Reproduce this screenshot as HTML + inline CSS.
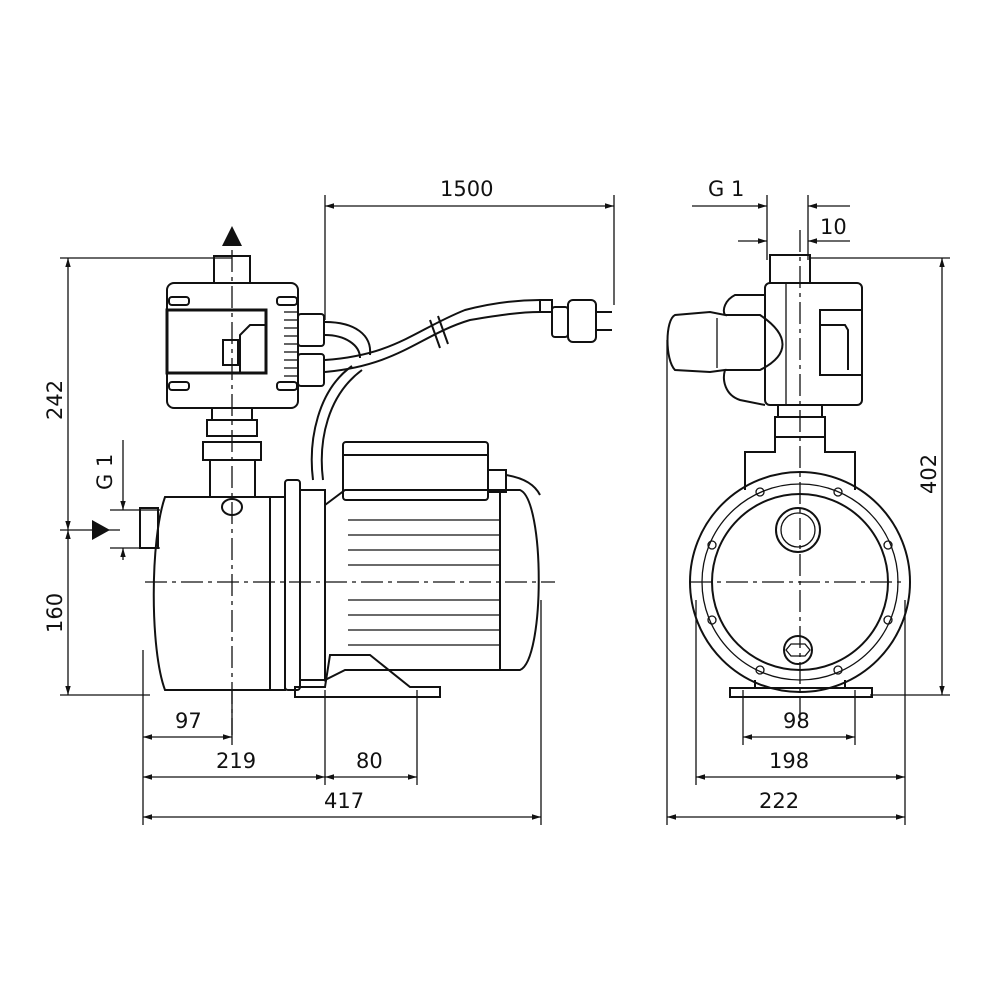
<!DOCTYPE html>
<html><head><meta charset="utf-8"><style>
html,body{margin:0;padding:0;background:#fff}
svg{display:block}
text{font-family:"DejaVu Sans","Liberation Sans",sans-serif;font-size:21px;fill:#111}
</style></head><body>
<svg width="1000" height="1000" viewBox="0 0 1000 1000" xmlns="http://www.w3.org/2000/svg">
<defs>
<marker id="a" viewBox="0 0 10 10" refX="10" refY="5" markerWidth="9" markerHeight="9" orient="auto-start-reverse" markerUnits="userSpaceOnUse"><path d="M0,2 L10,5 L0,8z" fill="#111"/></marker>
</defs>
<g stroke="#111" fill="none" stroke-width="1.3">
<!-- ===== LEFT VIEW dimensions ===== -->
<line x1="325" y1="195" x2="325" y2="320"/>
<line x1="614" y1="195" x2="614" y2="305"/>
<line x1="325" y1="206" x2="614" y2="206" marker-start="url(#a)" marker-end="url(#a)"/>
<line x1="60" y1="258" x2="232" y2="258"/>
<line x1="60" y1="530" x2="120" y2="530"/>
<line x1="60" y1="695" x2="150" y2="695"/>
<line x1="68" y1="258" x2="68" y2="530" marker-start="url(#a)" marker-end="url(#a)"/>
<line x1="68" y1="530" x2="68" y2="695" marker-start="url(#a)" marker-end="url(#a)"/>
<line x1="123" y1="440" x2="123" y2="510" marker-end="url(#a)"/>
<line x1="123" y1="560" x2="123" y2="548" marker-end="url(#a)"/>
<line x1="110" y1="510" x2="160" y2="510"/>
<line x1="110" y1="548" x2="160" y2="548"/>
<line x1="143" y1="650" x2="143" y2="825"/>
<line x1="232" y1="690" x2="232" y2="745"/>
<line x1="325" y1="690" x2="325" y2="785"/>
<line x1="417" y1="690" x2="417" y2="785"/>
<line x1="541" y1="600" x2="541" y2="825"/>
<line x1="143" y1="737" x2="232" y2="737" marker-start="url(#a)" marker-end="url(#a)"/>
<line x1="143" y1="777" x2="325" y2="777" marker-start="url(#a)" marker-end="url(#a)"/>
<line x1="325" y1="777" x2="417" y2="777" marker-start="url(#a)" marker-end="url(#a)"/>
<line x1="143" y1="817" x2="541" y2="817" marker-start="url(#a)" marker-end="url(#a)"/>
<line x1="232" y1="250" x2="232" y2="735" stroke-dasharray="22,5,4,5"/>
<line x1="145" y1="582" x2="555" y2="582" stroke-dasharray="22,5,4,5"/>
</g>
<g stroke="#111" fill="none" stroke-width="2">
<!-- controller -->
<rect x="214" y="256" width="36" height="27"/>
<rect x="167" y="283" width="131" height="125" rx="7"/>
<rect x="167" y="310" width="99" height="63" stroke-width="3"/>
<path d="M266,325 L250,325 L240,335 L240,373"/>
<rect x="223" y="340" width="15" height="25"/>
<rect x="169" y="297" width="20" height="8" rx="3"/><rect x="277" y="297" width="20" height="8" rx="3"/>
<rect x="169" y="382" width="20" height="8" rx="3"/><rect x="277" y="382" width="20" height="8" rx="3"/>
<g stroke-width="1.3"><line x1="284" y1="312" x2="298" y2="312"/><line x1="284" y1="320" x2="298" y2="320"/><line x1="284" y1="328" x2="298" y2="328"/><line x1="284" y1="336" x2="298" y2="336"/><line x1="284" y1="344" x2="298" y2="344"/><line x1="284" y1="352" x2="298" y2="352"/><line x1="284" y1="360" x2="298" y2="360"/><line x1="284" y1="368" x2="298" y2="368"/><line x1="284" y1="376" x2="298" y2="376"/></g>
<rect x="298" y="314" width="26" height="32" rx="3"/>
<rect x="298" y="354" width="26" height="32" rx="3"/>
<!-- fittings -->
<rect x="212" y="408" width="40" height="12"/>
<rect x="207" y="420" width="50" height="16"/>
<rect x="203" y="442" width="58" height="18"/>
<rect x="210" y="460" width="45" height="37"/>
<ellipse cx="232" cy="507" rx="10" ry="8"/>
<!-- cable -->
<path d="M325,322 C355,322 372,335 370,355"/>
<path d="M325,335 C345,335 360,345 360,358"/>
<path d="M325,372 C400,365 420,335 470,320 C500,315 520,312 540,312"/>
<path d="M325,360 C395,355 415,330 465,310 C495,302 520,300 540,300"/>
<path d="M362,370 C328,395 318,440 323,480"/>
<path d="M352,366 C318,390 308,440 313,480"/>
<line x1="430" y1="320" x2="440" y2="348"/><line x1="438" y1="316" x2="448" y2="344"/>
<rect x="540" y="300" width="12" height="12"/>
<rect x="552" y="307" width="16" height="30" rx="3"/>
<rect x="568" y="300" width="28" height="42" rx="5"/>
<line x1="596" y1="312" x2="612" y2="312"/><line x1="596" y1="330" x2="612" y2="330"/>
<!-- pump body -->
<path d="M165,497 L270,497 L270,690 L165,690 C150,650 150,540 165,497z"/>
<rect x="140" y="508" width="18" height="40"/>
<rect x="270" y="497" width="15" height="193"/>
<rect x="285" y="480" width="15" height="210" rx="3"/>
<rect x="300" y="490" width="25" height="190"/>
<!-- motor -->
<path d="M325,505 L345,490 L520,490 C545,500 545,660 520,670 L345,670 L325,680z"/>
<g stroke-width="1.2">
<line x1="348" y1="520" x2="500" y2="520"/><line x1="348" y1="535" x2="500" y2="535"/>
<line x1="348" y1="550" x2="500" y2="550"/><line x1="348" y1="565" x2="500" y2="565"/>
<line x1="348" y1="600" x2="500" y2="600"/><line x1="348" y1="615" x2="500" y2="615"/>
<line x1="348" y1="630" x2="500" y2="630"/><line x1="348" y1="645" x2="500" y2="645"/>
</g>
<line x1="500" y1="490" x2="500" y2="670"/>
<rect x="343" y="442" width="145" height="58" rx="3"/>
<line x1="343" y1="455" x2="488" y2="455"/>
<rect x="488" y="470" width="18" height="22"/>
<path d="M506,475 C525,478 535,485 540,495"/>
<path d="M295,697 L440,697 L440,687 L410,687 L370,655 L330,655 L325,687 L295,687z"/>

<!-- ===== RIGHT VIEW ===== -->
<rect x="770" y="255" width="40" height="28"/>
<rect x="765" y="283" width="97" height="122" rx="5"/>
<line x1="786" y1="283" x2="786" y2="405" stroke-width="1.3"/>
<rect x="820" y="310" width="42" height="65"/>
<path d="M820,325 L845,325 L848,330 L848,370"/>
<path d="M765,295 L735,295 C725,300 722,310 725,315 L710,312 L675,315 C665,320 665,360 675,370 L710,372 L725,370 C722,380 725,395 740,400 L765,405"/>
<path d="M725,315 L760,315 C790,335 790,355 760,370 L725,370"/>
<line x1="717" y1="318" x2="717" y2="368" stroke-width="1.3"/>
<rect x="778" y="405" width="44" height="12"/>
<rect x="775" y="417" width="50" height="20"/>
<path d="M745,490 L745,452 L775,452 L775,437 L825,437 L825,452 L855,452 L855,490"/>
<circle cx="800" cy="582" r="110"/>
<circle cx="800" cy="582" r="98" stroke-width="1.3"/>
<circle cx="800" cy="582" r="88"/>
<circle cx="798" cy="530" r="22"/>
<circle cx="798" cy="530" r="17" stroke-width="1.3"/>
<circle cx="798" cy="650" r="14"/>
<path d="M791,644 L805,644 L810,650 L805,656 L791,656 L786,650z" stroke-width="1.3"/>
<g stroke-width="1.3">
<circle cx="712" cy="545" r="4"/><circle cx="888" cy="545" r="4"/>
<circle cx="712" cy="620" r="4"/><circle cx="888" cy="620" r="4"/>
<circle cx="760" cy="492" r="4"/><circle cx="838" cy="492" r="4"/>
<circle cx="760" cy="670" r="4"/><circle cx="838" cy="670" r="4"/>
</g>
<path d="M755,680 L755,688 L845,688 L845,680"/>
<rect x="730" y="688" width="142" height="9"/>
</g>
<g stroke="#111" fill="none" stroke-width="1.3">
<line x1="767" y1="195" x2="767" y2="260"/>
<line x1="808" y1="195" x2="808" y2="260"/>
<line x1="692" y1="206" x2="767" y2="206" marker-end="url(#a)"/>
<line x1="808" y1="206" x2="850" y2="206" marker-start="url(#a)"/>
<line x1="738" y1="241" x2="767" y2="241" marker-end="url(#a)"/>
<line x1="808" y1="241" x2="850" y2="241" marker-start="url(#a)"/>
<line x1="810" y1="258" x2="950" y2="258"/>
<line x1="870" y1="695" x2="950" y2="695"/>
<line x1="942" y1="258" x2="942" y2="695" marker-start="url(#a)" marker-end="url(#a)"/>
<line x1="743" y1="690" x2="743" y2="745"/>
<line x1="855" y1="690" x2="855" y2="745"/>
<line x1="696" y1="600" x2="696" y2="785"/>
<line x1="905" y1="600" x2="905" y2="785"/>
<line x1="667" y1="340" x2="667" y2="825"/>
<line x1="905" y1="785" x2="905" y2="825"/>
<line x1="743" y1="737" x2="855" y2="737" marker-start="url(#a)" marker-end="url(#a)"/>
<line x1="696" y1="777" x2="905" y2="777" marker-start="url(#a)" marker-end="url(#a)"/>
<line x1="667" y1="817" x2="905" y2="817" marker-start="url(#a)" marker-end="url(#a)"/>
<line x1="800" y1="230" x2="800" y2="720" stroke-dasharray="22,5,4,5"/>
<line x1="690" y1="582" x2="905" y2="582" stroke-dasharray="22,5,4,5"/>
</g>
<path d="M222,246 L232,226 L242,246z" fill="#111"/>
<path d="M92,520 L110,530 L92,540z" fill="#111"/>
<text x="440" y="196">1500</text>
<text x="708" y="196">G 1</text>
<text x="820" y="234">10</text>
<text x="175" y="728">97</text>
<text x="216" y="768">219</text>
<text x="356" y="768">80</text>
<text x="324" y="808">417</text>
<text x="783" y="728">98</text>
<text x="769" y="768">198</text>
<text x="759" y="808">222</text>
<text transform="translate(62,420) rotate(-90)">242</text>
<text transform="translate(62,633) rotate(-90)">160</text>
<text transform="translate(112,490) rotate(-90)">G 1</text>
<text transform="translate(936,494) rotate(-90)">402</text>
</svg>
</body></html>
